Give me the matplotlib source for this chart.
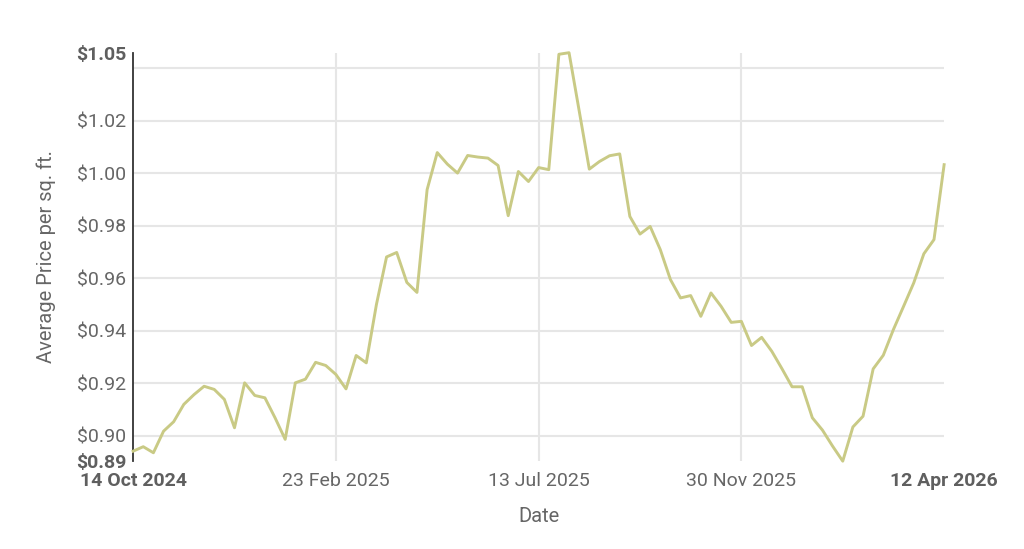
import numpy as np
import matplotlib.pyplot as plt

# average price per sq. ft. (81 points)
prices = [
    0.8942, 0.8959, 0.8936, 0.9018, 0.9054, 0.9120, 0.9157, 0.9189, 0.9177, 0.9139,
    0.9031, 0.9202, 0.9154, 0.9145, 0.9069, 0.8987, 0.9202, 0.9216, 0.9280, 0.9268,
    0.9234, 0.9179, 0.9306, 0.9278, 0.9500, 0.9681, 0.9698, 0.9584, 0.9546, 0.9937,
    1.0078, 1.0034, 1.0000, 1.0067, 1.0061, 1.0057, 1.0029, 0.9838, 1.0006, 0.9968,
    1.0021, 1.0013, 1.0452, 1.0458, 1.0237, 1.0015, 1.0044, 1.0066, 1.0073, 0.9835,
    0.9768, 0.9797, 0.9709, 0.9595, 0.9525, 0.9534, 0.9455, 0.9544, 0.9493, 0.9432,
    0.9436, 0.9344, 0.9375, 0.9322, 0.9256, 0.9187, 0.9187, 0.9069, 0.9022, 0.8961,
    0.8904, 0.9034, 0.9075, 0.9255, 0.9307, 0.9405, 0.9493, 0.9582, 0.9693, 0.9747,
    1.0032,
]
date_ticks = [0, 20, 40, 60, 80]
date_labels = ["14 Oct 2024", "23 Feb 2025", "13 Jul 2025", "30 Nov 2025", "12 Apr 2026"]
grid_prices = [0.90, 0.92, 0.94, 0.96, 0.98, 1.00, 1.02, 1.04]

plt.rcParams['font.family'] = ['Roboto', 'DejaVu Sans']

x = np.arange(len(prices))
ymin, ymax = min(prices), max(prices)

fig = plt.figure(figsize=(10.24, 5.49), dpi=100)
ax = fig.add_axes([0.13, 0.16, 0.792, 0.744])

grid_col = '#e6e6e6'
ax.hlines(grid_prices, x[0], x[-1], color=grid_col, lw=1.5, zorder=1)
for t in date_ticks[1:-1]:
    ax.axvline(t, color=grid_col, lw=1.5, zorder=1)

ax.plot(x, prices, color='#c9ca85', lw=2.1, zorder=3, clip_on=False)

ax.set_xlim(x[0], x[-1])
ax.set_ylim(ymin, ymax)

for s in ['top', 'right', 'bottom']:
    ax.spines[s].set_visible(False)
ax.spines['left'].set_color('#333333')
ax.spines['left'].set_linewidth(1.3)

# y ticks: bold min / max, regular grid values (1.04 hidden, it clashes with max)
yt = [ymin] + grid_prices[:-1] + [ymax]
ax.set_yticks(yt)
ax.set_yticklabels([f"${v:.2f}" for v in yt])
ax.set_xticks(date_ticks)
ax.set_xticklabels(date_labels)
ax.tick_params(length=0, labelsize=14, colors='#666666')
ax.tick_params(axis='y', pad=5)
ax.tick_params(axis='x', pad=8)
for lab in [ax.get_yticklabels()[0], ax.get_yticklabels()[-1],
            ax.get_xticklabels()[0], ax.get_xticklabels()[-1]]:
    lab.set_fontweight('bold')
    lab.set_color('#5f5f5f')

ax.set_xlabel('Date', fontsize=14.5, color='#666666', labelpad=12)
ax.set_ylabel('Average Price per sq. ft.', fontsize=14.5, color='#666666', labelpad=14)

fig.savefig('out.png', dpi=100)
